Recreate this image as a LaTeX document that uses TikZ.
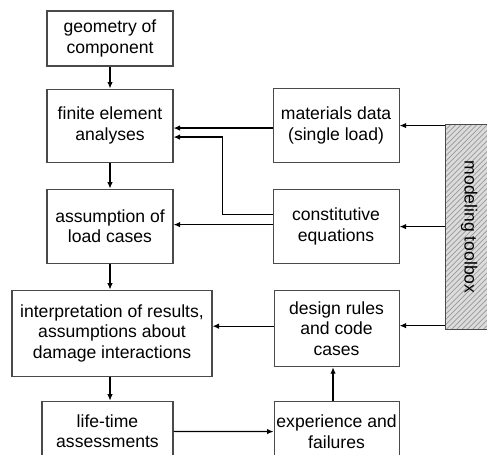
\documentclass[tikz,border=0pt]{standalone}
\usepackage{fontspec}
\setmainfont{Liberation Sans}
\usepackage{tikz}
\usetikzlibrary{positioning,arrows.meta,patterns}
\definecolor{BoxLine}{HTML}{4A4A4A}
\definecolor{ToolFill}{HTML}{DCDCDC}

\begin{document}
\begin{tikzpicture}[font=\fontsize{10pt}{11.7pt}\selectfont,
  box/.style={draw=BoxLine, line width=0.6pt, align=center, inner sep=0pt, minimum width=2.52cm},
  arr/.style={-{Latex[length=1.3mm,width=1.1mm]}, black, line width=0.7pt}]
  \clip (0,0) rectangle (9.74,-9.08);
  \useasboundingbox (0,0) rectangle (9.74,-9.08);
  % left column
  \node[box, minimum height=1.10cm] (geo) at (2.2,-0.77) {geometry of\\ component};
  \node[box, minimum height=1.46cm, below=0.44cm of geo] (fea) {finite element\\ analyses};
  \node[box, minimum height=1.48cm, below=0.52cm of fea] (load) {assumption of\\ load cases};
  \node[box, minimum width=4.0cm, minimum height=1.72cm, below=0.52cm of load, xshift=0.04cm] (interp)
    {interpretation of results,\\ assumptions about\\ damage interactions};
  \node[box, minimum width=2.62cm, minimum height=1.2cm, below=0.48cm of interp, xshift=-0.09cm] (life)
    {life-time\\ assessments};
  % right column
  \node[box, minimum height=1.48cm, right=1.98cm of fea] (mat) {materials data\\ (single load)};
  \node[box, minimum height=1.48cm, below=0.52cm of mat] (const) {constitutive\\ equations};
  \node[box, minimum width=2.5cm, minimum height=1.52cm, below=0.52cm of const, xshift=0.01cm] (rules)
    {design rules\\ and code\\ cases};
  \node[box, minimum width=2.5cm, minimum height=1.2cm, below=0.68cm of rules] (exper)
    {experience and\\ failures};
  \node[draw=BoxLine, line width=0.6pt, preaction={fill=ToolFill}, pattern=north east lines, pattern color=black!40,
    minimum width=0.96cm, minimum height=4.1cm, inner sep=0pt, right=0.9cm of const, yshift=-0.01cm] (tool)
    {\rotatebox{-90}{modeling toolbox}};
  % flow
  \draw[arr] (geo) -- (fea);
  \draw[arr] (fea) -- (load);
  \draw[arr] (load.south) -- (load.south |- interp.north);
  \draw[arr] (interp.south -| load.south) -- (life.north -| load.south);
  \draw[arr] (life) -- (exper);
  \draw[arr] (exper.north -| 6.66,0) -- (rules.south -| 6.66,0);
  \draw[arr] ([yshift=0.05cm]rules.west) -- ([yshift=0.05cm]rules.west -| interp.east);
  % inputs
  \draw[arr] ([yshift=-0.05cm]mat.west) -- ([yshift=-0.05cm]mat.west -| fea.east);
  \draw[arr] ([yshift=0.24cm]const.west) -- ++(-1.0,0) |- ([yshift=-0.23cm]fea.east);
  \draw[arr] ([yshift=0.04cm]const.west) -- ([yshift=0.04cm]const.west -| load.east);
  \draw[arr] (tool.west |- mat.east) -- (mat.east);
  \draw[arr] (tool.west |- const.east) -- (const.east);
  \draw[arr] ([yshift=0.06cm]tool.west |- rules.east) -- ([yshift=0.06cm]rules.east);
\end{tikzpicture}
\end{document}
